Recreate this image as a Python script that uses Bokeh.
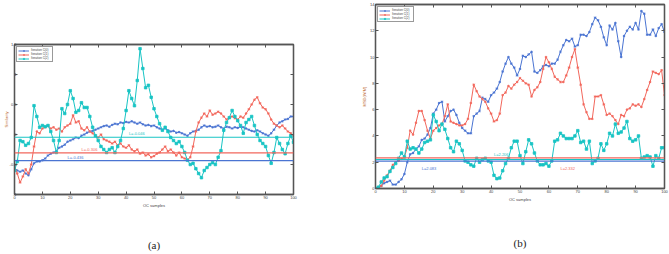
import math
from bokeh.plotting import figure
from bokeh.layouts import row, column
from bokeh.models import (Span, Label, Legend, LegendItem, LinearAxis, FixedTicker,
                          Title, CustomJSTickFormatter)
from bokeh.embed import file_html
from bokeh.resources import INLINE

# ---------------- data ----------------
samples = list(range(101))

a_blue = [-0.55, -0.6, -0.62, -0.6, -0.65, -0.68, -0.58, -0.48, -0.45, -0.45,
          -0.43, -0.4, -0.35, -0.32, -0.3, -0.28, -0.22, -0.2, -0.17, -0.12,
          -0.1, -0.08, -0.05, -0.06, -0.02, 0.0, 0.03, 0.05, 0.06, 0.08,
          0.1, 0.12, 0.14, 0.15, 0.13, 0.16, 0.18, 0.17, 0.2, 0.19,
          0.21, 0.2, 0.22, 0.2, 0.18, 0.2, 0.17, 0.15, 0.16, 0.14,
          0.15, 0.12, 0.1, 0.08, 0.1, 0.07, 0.05, 0.06, 0.03, 0.04,
          0.02, 0.0, -0.02, 0.02, 0.05, 0.06, 0.08, 0.12, 0.15, 0.13,
          0.14, 0.12, 0.13, 0.15, 0.12, 0.1, 0.13, 0.12, 0.1, 0.12,
          0.11, 0.13, 0.12, 0.1, 0.08, 0.06, 0.05, 0.07, 0.05, 0.02,
          0.0, -0.02, 0.02, 0.08, 0.15, 0.2, 0.22, 0.25, 0.26, 0.3, 0.3]
a_red = [-0.52, -0.65, -0.8, -0.7, -0.58, -0.65, -0.5, -0.2, 0.05, 0.02,
         0.1, 0.12, 0.15, 0.1, 0.12, 0.08, 0.1, 0.05, 0.12, 0.15,
         0.18, 0.32, 0.2, 0.22, 0.1, 0.07, 0.12, 0.05, 0.02, -0.02,
         -0.05, 0.0, -0.08, -0.1, -0.12, -0.15, -0.12, -0.18, -0.15, -0.2,
         -0.22, -0.18, -0.25, -0.28, -0.25, -0.32, -0.3, -0.35, -0.33, -0.38,
         -0.36, -0.32, -0.3, -0.25, -0.2, -0.28, -0.25, -0.3, -0.35, -0.3,
         -0.38, -0.4, -0.42, -0.38, -0.2, 0.05, 0.2, 0.28, 0.35, 0.3,
         0.4, 0.33, 0.35, 0.38, 0.35, 0.3, 0.25, 0.28, 0.3, 0.27,
         0.25, 0.3, 0.28, 0.35, 0.42, 0.5, 0.58, 0.62, 0.52, 0.45,
         0.42, 0.35, 0.25, 0.18, 0.15, 0.12, 0.15, 0.1, 0.05, 0.02, -0.02]
a_cyan = [-0.6, -0.45, -0.1, -0.12, -0.18, -0.15, -0.05, 0.48, 0.3, 0.12,
          0.15, 0.13, 0.15, 0.05, -0.1, -0.3, -0.1, 0.43, 0.35, 0.5,
          0.73, 0.6, 0.37, 0.4, 0.53, 0.45, 0.45, 0.3, 0.12, -0.02,
          -0.1, -0.2, -0.25, -0.3, -0.25, -0.22, -0.3, -0.2, -0.1, 0.1,
          0.4, 0.73, 0.6, 0.48, 0.9, 1.43, 1.1, 0.78, 0.82, 0.62,
          0.43, 0.3, 0.18, 0.07, 0.12, 0.05, -0.05, -0.1, -0.15, -0.12,
          -0.2, -0.3, -0.43, -0.5, -0.48, -0.57, -0.65, -0.72, -0.6, -0.55,
          -0.5, -0.47, -0.5, -0.38, -0.27, 0.07, 0.2, 0.28, 0.4, 0.3,
          0.23, 0.15, 0.02, 0.2, 0.25, 0.3, 0.15, 0.0, -0.1, -0.15,
          -0.2, -0.35, -0.48, -0.3, -0.05, -0.15, -0.25, -0.32, -0.15, -0.02, -0.13]
a_limits = [-0.436, -0.306, -0.046]
a_limit_text = ["L=-0.436", "L=-0.306", "L=-0.046"]

b_blue = [0.0, 0.0, 0.2, 0.4, 0.5, 0.6, 0.3, 0.3, 0.5, 0.7,
          1.1, 2.0, 2.6, 2.7, 3.0, 3.2, 3.7, 3.8, 4.1, 4.6,
          5.7, 6.0, 6.5, 6.6, 5.1, 5.5, 5.9, 6.0, 5.6, 5.0,
          4.6, 4.4, 4.2, 4.2, 5.5, 5.7, 5.9, 6.9, 6.8, 6.6,
          7.1, 7.3, 7.6, 8.1, 8.9, 9.5, 10.0, 9.5, 9.2, 8.6,
          9.1, 10.1, 10.0, 10.2, 10.4, 8.9, 8.8, 9.0, 9.3, 9.4,
          9.3, 9.5, 9.5, 9.8, 10.4, 10.9, 11.3, 11.2, 11.4, 10.8,
          10.9, 11.7, 11.7, 11.6, 11.9, 12.5, 13.0, 12.8, 12.3, 11.5,
          10.9, 12.4, 12.1, 12.6, 11.2, 10.0, 11.6, 12.0, 12.3, 12.1,
          12.6, 12.1, 13.5, 13.3, 11.7, 11.7, 12.1, 11.6, 12.2, 12.5, 11.9]
b_red = [0.0, 0.1, 0.2, 0.6, 1.0, 1.35, 1.8, 2.0, 2.1, 2.25,
         2.4, 3.1, 4.4, 4.1, 5.0, 5.9, 5.9, 5.2, 4.4, 3.8,
         4.4, 4.6, 4.8, 4.9, 5.5, 6.4, 5.1, 5.0, 4.9, 4.8,
         4.8, 4.9, 5.3, 6.5, 7.9, 7.4, 7.0, 6.8, 6.6, 6.1,
         5.7, 5.1, 5.2, 5.7, 7.1, 7.3, 7.8, 7.6, 7.9, 8.1,
         8.4, 8.2, 8.0, 7.9, 7.0, 7.5, 7.7, 8.1, 9.1, 10.0,
         9.6, 9.1, 8.5, 8.3, 8.1, 8.1, 8.6, 9.2, 10.0, 10.6,
         9.2, 7.9, 6.4, 5.8, 5.3, 5.3, 7.0, 7.0, 7.1, 6.4,
         5.6, 5.7, 5.5, 5.2, 4.9, 5.6, 5.5, 6.0, 6.1, 6.4,
         6.3, 6.4, 6.2, 6.8, 7.5, 8.1, 8.9, 8.8, 8.7, 9.0, 7.1]
b_cyan = [0.0, 0.1, 0.5, 0.8, 0.9, 1.3, 1.6, 1.9, 2.3, 2.7,
          2.4, 3.6, 3.0, 3.1, 3.0, 2.7, 3.0, 3.5, 3.6, 3.7,
          5.6, 5.1, 4.4, 4.9, 4.5, 3.8, 3.1, 2.8, 3.6, 3.4,
          2.9, 2.1, 2.0, 1.8, 1.7, 2.3, 2.0, 2.2, 2.3, 2.1,
          2.0, 1.0, 0.75, 0.8, 1.35, 1.9, 2.3, 3.1, 3.6, 3.6,
          2.5, 1.9, 2.8, 3.7, 3.4, 2.7, 2.1, 1.8, 1.8, 1.9,
          1.7, 2.1, 3.6, 3.7, 4.2, 4.0, 3.8, 3.8, 3.8, 4.0,
          4.4, 3.5, 3.6, 3.0, 3.6, 1.9, 2.1, 2.3, 3.4, 2.9,
          3.4, 4.2, 4.0, 4.9, 4.2, 4.3, 4.6, 5.1, 3.8, 3.6,
          3.7, 4.0, 2.3, 2.4, 2.5, 2.4, 1.7, 2.5, 2.3, 3.1, 3.1]
b_limits = [2.083, 2.332, 2.206]
b_limit_text = ["L=2.083", "L=2.332", "L=2.206"]

series_names = ["Iteration C(0)", "Iteration C(1)", "Iteration C(2)"]
x_ticks = [0, 10, 20, 30, 40, 50, 60, 70, 80, 90, 100]
a_y_ticks = [-1, -0.5, 0, 0.5, 1, 1.5]
a_y_tick_labels = ["-1", "-0.5", "0", "0.5", "1", "1.5"]
b_y_ticks = [0, 2, 4, 6, 8, 10, 12, 14]

for s in (a_blue, a_red, a_cyan, b_blue, b_red, b_cyan):
    assert len(s) == len(samples), len(s)

# ---------------- style ----------------
COLORS = ["#4a74d2", "#f2675c", "#18c4c4"]
MARKERS = ["asterisk", "asterisk", "square"]
FONT = "Liberation Sans"
AX = "#555555"
YLAB = "#c0703a"


def style_axis(ax, ticks, labels=True):
    ax.ticker = FixedTicker(ticks=ticks)
    ax.axis_line_color = AX
    ax.axis_line_width = 1.3
    ax.major_tick_line_color = AX
    ax.major_tick_in = 3
    ax.major_tick_out = 0
    ax.minor_tick_line_color = None
    ax.major_label_text_font = FONT
    ax.major_label_text_font_size = "4px"
    ax.major_label_text_color = "#444444"
    ax.major_label_standoff = 1
    ax.axis_label_text_font = FONT
    ax.axis_label_text_font_size = "4px"
    ax.axis_label_text_font_style = "normal"
    ax.axis_label_standoff = 0
    if not labels:
        ax.formatter = CustomJSTickFormatter(code="return ''")
        ax.major_label_standoff = 0


def make_panel(vals, limits, limit_text, limit_pos, yr, yticks, ylabel, caption,
               fw, fh, bl, br, bt, bb, overrides=None, cap_standoff=30,
               tight_y=False):
    p = figure(frame_width=fw, frame_height=fh, x_range=(0, 100), y_range=yr,
               output_backend="svg", toolbar_location=None,
               min_border_left=bl, min_border_right=br,
               min_border_top=bt, min_border_bottom=bb)
    p.grid.visible = False
    p.outline_line_color = AX
    p.outline_line_width = 1.3
    p.background_fill_color = "white"
    p.border_fill_color = "white"
    style_axis(p.xaxis[0], x_ticks)
    style_axis(p.yaxis[0], yticks)
    p.xaxis[0].axis_label = "OC samples"
    p.xaxis[0].axis_label_standoff = 1
    p.yaxis[0].axis_label = ylabel
    p.yaxis[0].axis_label_text_color = YLAB
    if tight_y:
        p.yaxis[0].major_label_standoff = -2
        p.yaxis[0].axis_label_standoff = -2
    if overrides:
        p.yaxis[0].major_label_overrides = overrides
    top = LinearAxis()
    style_axis(top, x_ticks, labels=False)
    p.add_layout(top, "above")
    right = LinearAxis()
    style_axis(right, yticks, labels=False)
    p.add_layout(right, "right")

    items = []
    for v, c, m, name in zip(vals, COLORS, MARKERS, series_names):
        ln = p.line(samples, v, line_color=c, line_width=1)
        sc = p.scatter(samples, v, marker=m, size=2.5, line_color=c, fill_color=c,
                       line_width=0.8)
        items.append(LegendItem(label=name, renderers=[ln, sc]))
    for L, c, t, (lx, dy) in zip(limits, COLORS, limit_text, limit_pos):
        p.add_layout(Span(location=L, dimension="width", line_color=c, line_width=1.2))
        p.add_layout(Label(x=lx, y=L + dy, text=t, text_color=c, text_font=FONT,
                           text_font_size="4px", text_align="left",
                           text_baseline="middle"))
    leg = Legend(items=items, location="top_left", label_text_font=FONT,
                 label_text_font_size="3px", label_height=3, glyph_height=3,
                 glyph_width=11, label_standoff=2, spacing=0, padding=1, margin=2,
                 border_line_color="#333333", border_line_width=1)
    p.add_layout(leg)
    p.add_layout(Title(text=caption, align="center", text_font="Liberation Serif",
                       text_font_size="11px", text_font_style="normal",
                       text_color="#222222", standoff=cap_standoff), "below")
    return p


pa = make_panel([a_blue, a_red, a_cyan], a_limits, a_limit_text,
                [(19, 0.06), (24, 0.06), (41, 0.06)],
                (-1, 1.5), a_y_ticks, "Similarity", "(a)",
                279, 150, 13, 46, 44, 60,
                overrides={float(t): s for t, s in zip(a_y_ticks, a_y_tick_labels)},
                cap_standoff=53, tight_y=True)
pb = make_panel([b_blue, b_red, b_cyan], b_limits, b_limit_text,
                [(16, -0.55), (64, -0.8), (41, 0.4)],
                (0, 14), b_y_ticks, "MSD(W/M)", "(b)",
                289, 184, 36, 6, 4, 66, cap_standoff=60)

layout = row(column(pa), column(pb), spacing=0)
open("out.html", "w").write(file_html(layout, INLINE))
